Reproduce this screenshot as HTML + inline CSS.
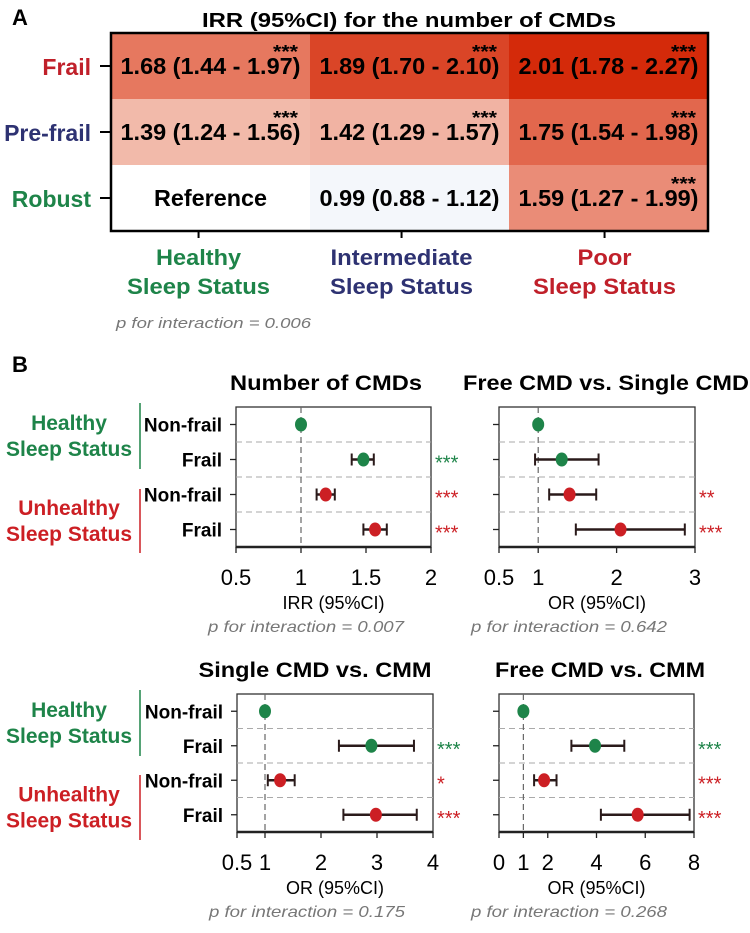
<!DOCTYPE html>
<html><head><meta charset="utf-8"><style>
html,body{margin:0;padding:0;background:#fff}
svg{display:block}
text{font-family:"Liberation Sans Narrow","Liberation Sans",Arial,sans-serif}
.b{font-weight:bold}
</style></head><body>
<svg id="fig" width="750" height="933" viewBox="0 0 750 933" xmlns="http://www.w3.org/2000/svg">
<text class="b" x="12" y="25" font-size="22">A</text>
<text class="b" x="409" y="27" font-size="20" text-anchor="middle" textLength="414" lengthAdjust="spacingAndGlyphs">IRR (95%CI) for the number of CMDs</text>
<g id="heat"></g>
<text x="116" y="328" font-size="15" font-style="italic" fill="#777" textLength="195" lengthAdjust="spacingAndGlyphs">p for interaction = 0.006</text>
<text class="b" x="12" y="372" font-size="22">B</text>
<g id="groups"></g>
<g id="forest"></g>
</svg>
<script>
const NS='http://www.w3.org/2000/svg';
function mk(p,t,a,txt){const e=document.createElementNS(NS,t);for(const k in a)e.setAttribute(k,a[k]);if(txt!==undefined)e.textContent=txt;p.appendChild(e);return e;}
// ---- Panel A data ----
const rowLabels=['Frail','Pre-frail','Robust'];
const rowColors=['#c0202a','#2e3272','#1e8449'];
const colLabels1=['Healthy','Intermediate','Poor'];
const colColors=['#1e8449','#2e3272','#c0202a'];
const cellText=[['1.68 (1.44 - 1.97)','1.89 (1.70 - 2.10)','2.01 (1.78 - 2.27)'],
['1.39 (1.24 - 1.56)','1.42 (1.29 - 1.57)','1.75 (1.54 - 1.98)'],
['Reference','0.99 (0.88 - 1.12)','1.59 (1.27 - 1.99)']];
const cellIRR=[[1.68,1.89,2.01],[1.39,1.42,1.75],[1.00,0.99,1.59]];
const cellSig=[['***','***','***'],['***','***','***'],['','','***']];
function heatColor(v){
  if(v<1){return '#f4f7fb';}
  const t=Math.min(1,(v-1)/1.0);
  const c0=[255,255,255],c1=[242,184,168],c2=[229,115,90],c3=[212,42,10];
  let a,b,u;
  if(t<0.4){a=c0;b=c1;u=t/0.4;}else if(t<0.7){a=c1;b=c2;u=(t-0.4)/0.3;}else{a=c2;b=c3;u=(t-0.7)/0.3;}
  return 'rgb('+a.map((x,i)=>Math.round(x+(b[i]-x)*u)).join(',')+')';
}
const heat=document.getElementById('heat');
const hx0=111,hy0=33,cw=199,ch=66;
const labelW=[85,142,54];
for(let r=0;r<3;r++){
  for(let c=0;c<3;c++){
    const rc=mk(heat,'rect',{x:hx0+c*cw,y:hy0+r*ch,width:cw+0.5,height:ch+0.5,fill:heatColor(cellIRR[r][c])});
    
    
    const t=mk(heat,'text',{x:hx0+c*cw+cw/2,y:hy0+r*ch+41,'font-size':23,'text-anchor':'middle',class:'b',textLength:cellText[r][c]==='Reference'?113:180,lengthAdjust:'spacingAndGlyphs'},cellText[r][c]);
    
    
    if(cellSig[r][c]){const s=mk(heat,'text',{x:hx0+c*cw+cw-12,y:hy0+r*ch+25,'font-size':18,'text-anchor':'end',class:'b',textLength:25,lengthAdjust:'spacingAndGlyphs'},cellSig[r][c]);
      
      }
  }
  const l=mk(heat,'text',{x:91,y:hy0+r*ch+42,'font-size':23,'text-anchor':'end',class:'b',fill:rowColors[r]},rowLabels[r]);
  
  
  mk(heat,'line',{x1:100,x2:111,y1:hy0+r*ch+ch/2,y2:hy0+r*ch+ch/2,stroke:'#000','stroke-width':2});
}
mk(heat,'rect',{x:hx0,y:hy0,width:cw*3,height:ch*3,fill:'none',stroke:'#000','stroke-width':2.5});
for(let c=0;c<3;c++){
  const cx=hx0+c*cw+cw*0.44+ (c===0?0:(c===1?4:8));
  mk(heat,'line',{x1:cx,x2:cx,y1:hy0+ch*3,y2:hy0+ch*3+7,stroke:'#000','stroke-width':2});
  const t1=mk(heat,'text',{x:cx,y:265,'font-size':22,'text-anchor':'middle',class:'b',fill:colColors[c],textLength:labelW[c],lengthAdjust:'spacingAndGlyphs'},colLabels1[c]);
  
  
  mk(heat,'text',{x:cx,y:294,'font-size':22,'text-anchor':'middle',class:'b',fill:colColors[c],textLength:143,lengthAdjust:'spacingAndGlyphs'},'Sleep Status');
}
// ---- Group labels ----
const G=document.getElementById('groups');
const green='#1e8449',red='#cc1f24';
function groupLabel(yTop,yBot,c,l1,l2){
  mk(G,'line',{x1:140,x2:140,y1:yTop,y2:yBot,stroke:c,'stroke-width':1.5});
  const m=(yTop+yBot)/2;
  mk(G,'text',{x:69,y:m-6,'font-size':21,'text-anchor':'middle',class:'b',fill:c},l1);
  mk(G,'text',{x:69,y:m+20,'font-size':21,'text-anchor':'middle',class:'b',fill:c,textLength:126,lengthAdjust:'spacingAndGlyphs'},l2);
}
groupLabel(403,469,green,'Healthy','Sleep Status');
groupLabel(489,553,red,'Unhealthy','Sleep Status');
groupLabel(690,756,green,'Healthy','Sleep Status');
groupLabel(775,840,red,'Unhealthy','Sleep Status');
// ---- Forest data ----
const rowNames=['Non-frail','Frail','Non-frail','Frail'];
const rowCols=[green,green,red,red];
const p1Est=[1.0,1.48,1.19,1.57], p1Lo=[1.0,1.39,1.12,1.48], p1Hi=[1.0,1.56,1.26,1.66], p1Sig=['','***','***','***'];
const p2Est=[1.0,1.30,1.40,2.05], p2Lo=[1.0,0.96,1.14,1.48], p2Hi=[1.0,1.77,1.74,2.87], p2Sig=['','','**','***'];
const p3Est=[1.0,2.90,1.27,2.98], p3Lo=[1.0,2.32,1.05,2.40], p3Hi=[1.0,3.66,1.53,3.71], p3Sig=['','***','*','***'];
const p4Est=[1.0,3.94,1.85,5.69], p4Lo=[1.0,2.97,1.44,4.18], p4Hi=[1.0,5.14,2.36,7.82], p4Sig=['','***','***','***'];
const p1Ticks=[0.5,1,1.5,2], p2Ticks=[0.5,1,2,3], p3Ticks=[0.5,1,2,3,4], p4Ticks=[0,1,2,4,6,8];
const p1Tl=['0.5','1','1.5','2'], p2Tl=['0.5','1','2','3'], p3Tl=['0.5','1','2','3','4'], p4Tl=['0','1','2','4','6','8'];
const F=document.getElementById('forest');
function forest(o){
  const g=mk(F,'g',{});
  
  
  const {x0,x1,y0,y1,dmin,dmax}=o;
  const sx=v=>x0+(v-dmin)/(dmax-dmin)*(x1-x0);
  const rh=(y1-y0)/4;
  const ry=i=>y0+rh*(i+0.5);
  mk(g,'text',{x:o.tx,y:y0-17,'font-size':21,'text-anchor':'middle',class:'b',textLength:o.tw,lengthAdjust:'spacingAndGlyphs'},o.title);
  mk(g,'rect',{x:x0,y:y0,width:x1-x0,height:y1-y0,fill:'none',stroke:'#333','stroke-width':1.3});
  mk(g,'line',{x1:x0,x2:x1,y1:y1,y2:y1,stroke:'#222','stroke-width':2.5});
  for(let i=1;i<4;i++) mk(g,'line',{x1:x0,x2:x1,y1:y0+rh*i,y2:y0+rh*i,stroke:'#aaa','stroke-width':1,'stroke-dasharray':'6,4'});
  mk(g,'line',{x1:sx(1),x2:sx(1),y1:y0,y2:y1,stroke:'#666','stroke-width':1.2,'stroke-dasharray':'6,4'});
  o.ticks.forEach((t,i)=>{
    mk(g,'line',{x1:sx(t),x2:sx(t),y1:y1,y2:y1+6,stroke:'#222','stroke-width':1.3});
    const tl=mk(g,'text',{x:sx(t),y:y1+38,'font-size':22,'text-anchor':'middle'},o.tl[i]);
    
    
  });
  mk(g,'text',{x:(x0+x1)/2,y:y1+62,'font-size':18,'text-anchor':'middle'},o.xt);
  mk(g,'text',{x:x0+70,y:y1+85,'font-size':16,'font-style':'italic',fill:'#777','text-anchor':'middle',textLength:196,lengthAdjust:'spacingAndGlyphs'},o.p);
  for(let i=0;i<4;i++){
    const y=ry(i);
    mk(g,'line',{x1:x0-6,x2:x0,y1:y,y2:y,stroke:'#222','stroke-width':1.3});
    if(o.labels){const l=mk(g,'text',{x:x0-14,y:y+7,'font-size':19,'text-anchor':'end',class:'b'},rowNames[i]);
      
      }
    if(o.hi[i]>o.lo[i]){
      mk(g,'line',{x1:sx(o.lo[i]),x2:sx(o.hi[i]),y1:y,y2:y,stroke:'#2a1a1a','stroke-width':2.5});
      mk(g,'line',{x1:sx(o.lo[i]),x2:sx(o.lo[i]),y1:y-6,y2:y+6,stroke:'#2a1a1a','stroke-width':2});
      mk(g,'line',{x1:sx(o.hi[i]),x2:sx(o.hi[i]),y1:y-6,y2:y+6,stroke:'#2a1a1a','stroke-width':2});
    }
    const pt=mk(g,'ellipse',{cx:sx(o.est[i]),cy:y,rx:6,ry:7,fill:rowCols[i]});
    
    
    if(o.sig[i]){const s=mk(g,'text',{x:x1+4,y:y+10,'font-size':20,fill:rowCols[i]},o.sig[i]);
      
      }
  }
}
forest({name:'plot-number-of-cmds',x0:236,x1:431,y0:407,y1:547,dmin:0.5,dmax:2,ticks:p1Ticks,tl:p1Tl,est:p1Est,lo:p1Lo,hi:p1Hi,sig:p1Sig,title:'Number of CMDs',tx:326,tw:192,xt:'IRR (95%CI)',p:'p for interaction = 0.007',labels:true});
forest({name:'plot-free-vs-single',x0:499,x1:695,y0:407,y1:547,dmin:0.5,dmax:3,ticks:p2Ticks,tl:p2Tl,est:p2Est,lo:p2Lo,hi:p2Hi,sig:p2Sig,title:'Free CMD vs. Single CMD',tx:606,tw:286,xt:'OR (95%CI)',p:'p for interaction = 0.642',labels:false});
forest({name:'plot-single-vs-cmm',x0:237,x1:433,y0:694,y1:832,dmin:0.5,dmax:4,ticks:p3Ticks,tl:p3Tl,est:p3Est,lo:p3Lo,hi:p3Hi,sig:p3Sig,title:'Single CMD vs. CMM',tx:315,tw:233,xt:'OR (95%CI)',p:'p for interaction = 0.175',labels:true});
forest({name:'plot-free-vs-cmm',x0:499,x1:694,y0:694,y1:832,dmin:0,dmax:8,ticks:p4Ticks,tl:p4Tl,est:p4Est,lo:p4Lo,hi:p4Hi,sig:p4Sig,title:'Free CMD vs. CMM',tx:600,tw:210,xt:'OR (95%CI)',p:'p for interaction = 0.268',labels:false});
</script>
</body></html>
